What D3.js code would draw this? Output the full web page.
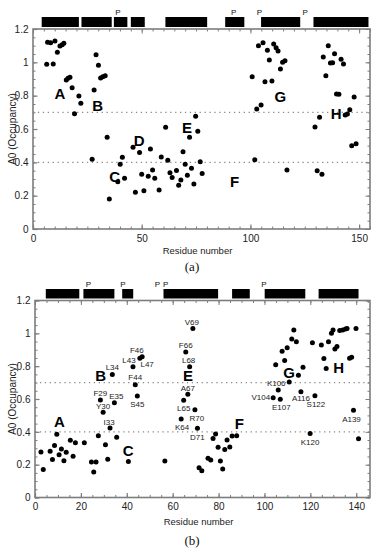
<!DOCTYPE html>
<html><head><meta charset="utf-8">
<script src="https://cdn.jsdelivr.net/npm/d3@7/dist/d3.min.js"></script>
<style>body{margin:0;background:#fff}svg{display:block}</style>
</head><body>
<svg id="c" width="376" height="550"></svg>
<script>
// ---------- DATA ----------
// Panel (a): [residue, A0 occupancy]
const pointsA = [
[6.3,0.988],[6.7,1.12],[8.1,1.118],[9.3,0.99],[10.1,1.128],[11.2,1.06],[12.4,1.098],[13.4,1.106],[14.2,1.114],
[15.3,0.894],[16.1,0.904],[17.0,0.91],[18.0,0.848],[19.1,0.692],[21.1,0.798],[22.0,0.754],
[28.1,0.834],[29.0,1.046],[30.1,0.982],[31.1,0.906],[32.1,0.914],[33.2,0.92],
[27.2,0.418],[34.1,0.55],[35.1,0.18],[39.0,0.283],[40.1,0.389],[41.1,0.431],[42.1,0.304],[46.0,0.49],[47.1,0.22],
[49.0,0.459],[50.0,0.328],[51.0,0.23],[53.0,0.317],[54.0,0.48],[55.0,0.354],[56.0,0.304],[58.0,0.234],[59.0,0.432],
[61.0,0.61],[62.0,0.412],[63.0,0.337],[64.0,0.309],[66.0,0.351],[67.0,0.262],[68.0,0.294],[69.0,0.464],[70.0,0.389],
[71.0,0.322],[72.0,0.55],[72.9,0.365],[74.0,0.27],[74.8,0.676],[75.8,0.587],[76.9,0.403],[77.8,0.333],
[102.0,0.416],[116.8,0.354],[130.7,0.35],[132.9,0.328],
[100.8,0.914],[102.9,0.72],[103.7,1.1],[104.9,0.744],[105.8,1.118],[106.7,0.884],[107.8,1.072],[108.7,1.014],
[109.9,0.888],[110.7,1.11],[111.8,1.088],[112.7,1.068],[113.8,0.96],[114.8,1.0],[115.9,1.01],
[129.7,0.612],[131.8,0.67],[133.5,1.032],[134.7,0.92],[135.8,1.1],[136.8,0.996],[137.8,0.998],[138.7,1.052],
[139.6,0.81],[140.7,0.808],[141.7,1.018],[142.8,0.99],[143.6,0.684],[144.6,0.69],[145.7,0.716],[147.7,0.792],
[146.6,0.5],[148.6,0.512]
];
// Panel (b): [residue, A0 occupancy, label]
const pointsB = [
[2.6,0.277],[3.6,0.17],[6.6,0.281],[7.6,0.232],[8.5,0.316],[9.5,0.385],[10.5,0.261],[11.5,0.295],[12.6,0.224],
[13.6,0.275],[15.4,0.348],[16.6,0.251],[17.6,0.334],[21.5,0.334],[24.6,0.216],[25.6,0.155],[26.6,0.216],[27.6,0.376],
[28.5,0.594,"F29"],[29.7,0.519,"Y30"],[30.7,0.322],[31.7,0.233],[32.7,0.423,"I33"],[33.7,0.75,"L34"],
[34.6,0.577,"E35"],[35.6,0.367],[40.7,0.22],[42.7,0.797,"L43"],[43.7,0.687,"F44"],[44.6,0.618,"S45"],
[45.7,0.848,"F46"],[46.7,0.858,"L47"],[56.6,0.222],
[63.7,0.478,"K64"],[64.8,0.592,"L65"],[65.7,0.886,"F66"],[66.6,0.629,"A67"],[67.4,0.797,"L68"],[68.8,1.029,"V69"],
[69.7,0.534,"R70"],[70.8,0.422,"D71"],[71.5,0.181],[72.7,0.163],[75.4,0.239],[76.6,0.228],[77.6,0.36],[78.7,0.387],
[79.8,0.306],[80.8,0.222],[81.8,0.174],[82.7,0.293],[83.7,0.35],[84.9,0.308],[85.9,0.375],[87.9,0.376],
[103.8,0.607,"V104"],[104.9,0.808],[106.0,0.655,"K106"],[106.9,0.598,"E107"],[107.7,0.891],[108.8,0.835],
[109.9,0.912],[110.8,0.703],[111.9,0.965],[112.8,1.02],[113.9,0.948],[114.8,0.744],[115.9,0.644,"A116"],
[116.8,0.793],[119.9,0.39,"K120"],[120.9,0.943],[122.0,0.62,"S122"],[124.8,0.929],[125.9,0.846],[126.9,0.786],
[127.9,0.948],[129.2,1.0],[129.9,1.02],[130.7,0.905],[131.6,0.92],[132.8,1.018],[134.1,1.02],[135.3,1.026],
[136.0,1.03],[137.1,0.848],[138.0,0.854],[138.8,0.532,"A139"],[139.9,1.03],[141.0,0.358]
];
// Secondary-structure segments [start, end] and proline marks
const segmentsA = [[4,21.1],[22.3,36.2],[37.2,43.4],[45,51.4],[60.9,80.1],[88.4,97.2],[104.9,122.9],[129,154.3]];
const prolinesA = [39.1,92.3,104.1,125.2];
const segmentsB = [[4.7,19.3],[21.1,34.6],[38,42.8],[56,79.8],[85.9,93.6],[100.1,117.8],[123.6,141]];
const prolinesB = [23.3,38.3,53.3,56.9,99.8];
// Region letters [letter, residue, occupancy]
const regionsA = [["A",12.4,0.816],["B",29.7,0.744],["C",37.6,0.314],["D",48.8,0.53],["E",70.8,0.61],["F",92.7,0.284],["G",113.8,0.794],["H",139.4,0.694]];
const regionsB = [["A",10.65,0.462],["B",28.65,0.746],["C",40.65,0.289],["E",66.7,0.742],["F",89.1,0.452],["G",110.7,0.762],["H",132.3,0.79]];
const thresholds = [0.7, 0.4];
const yTicks = [0,0.2,0.4,0.6,0.8,1,1.2];
const xTicksA = [0,50,100,150];
const xTicksB = [0,20,40,60,80,100,120,140];

// ---------- LABEL PLACEMENT (panel b residue labels: dx, dy, anchor) ----------
const labelPos = {
  F29:[0,-6,"middle"], Y30:[0,-6,"middle"], I33:[-1,-6,"middle"], L34:[0,-7,"middle"], E35:[2,-6,"middle"],
  L43:[-4,-6,"middle"], F44:[0,-7,"middle"], S45:[0,8,"middle"], F46:[-3,-8,"middle"], L47:[5,8,"middle"],
  K64:[1,8,"middle"], L65:[0,8.5,"middle"], F66:[0,-7,"middle"], A67:[0,-5.5,"middle"], L68:[-1,-6,"middle"],
  V69:[-1,-6,"middle"], R70:[2,8.5,"middle"], D71:[0,9,"middle"],
  V104:[-3,0,"end"], K106:[-2,-6,"middle"], E107:[1,8,"middle"], A116:[0,7,"middle"], K120:[0,9,"middle"],
  S122:[1,9,"middle"], A139:[-2,9,"middle"]
};

const svg = d3.select("#c");
svg.append("rect").attr("width",376).attr("height",550).attr("fill","#fff");
const frameColor = "#7d7d7d";
const sans = "Liberation Sans, Arial, sans-serif";

function panel(o){
  const x = d3.scaleLinear().domain(o.xDomain).range([o.left,o.right]);
  const y = d3.scaleLinear().domain([0,1.2]).range([o.bottom,o.top]);
  const g = svg.append("g");
  // threshold dotted lines
  g.selectAll(".thr").data(thresholds).join("line")
    .attr("x1",o.left).attr("x2",o.right).attr("y1",d=>y(d)).attr("y2",d=>y(d))
    .attr("stroke","#8a8a8a").attr("stroke-width",1.3).attr("stroke-dasharray","1.3,3.6");
  // minor ticks
  const xMinor = d3.range(o.xDomain[0], o.xDomain[1]+0.001, 5);
  const yMinor = d3.range(0, 1.2001, 0.05);
  const mk = (axis, ticks, size) => axis.tickValues(ticks).tickSize(size).tickFormat("");
  const styleAxis = sel => { sel.select(".domain").remove(); sel.selectAll("line").attr("stroke",frameColor).attr("stroke-width",1); };
  g.append("g").attr("transform",`translate(0,${o.bottom})`).call(mk(d3.axisBottom(x),xMinor,-2.5)).call(styleAxis);
  g.append("g").attr("transform",`translate(0,${o.top})`).call(mk(d3.axisTop(x),xMinor,-2.5)).call(styleAxis);
  g.append("g").attr("transform",`translate(${o.left},0)`).call(mk(d3.axisLeft(y),yMinor,-2.5)).call(styleAxis);
  g.append("g").attr("transform",`translate(${o.right},0)`).call(mk(d3.axisRight(y),yMinor,-2.5)).call(styleAxis);
  // major ticks with labels
  const bx = g.append("g").attr("transform",`translate(0,${o.bottom})`)
    .call(d3.axisBottom(x).tickValues(o.xTicks).tickSize(-4.5).tickPadding(5.5).tickFormat(d3.format("d")));
  bx.select(".domain").remove();
  bx.selectAll("line").attr("stroke",frameColor).attr("stroke-width",1.2);
  bx.selectAll("text").attr("font-family",sans).attr("font-size",10).attr("fill","#222").attr("dy","0.71em");
  g.append("g").attr("transform",`translate(0,${o.top})`).call(mk(d3.axisTop(x),o.xTicks,-4.5)).call(styleAxis);
  const ly = g.append("g").attr("transform",`translate(${o.left},0)`)
    .call(d3.axisLeft(y).tickValues(yTicks).tickSize(-4.5).tickPadding(4.5).tickFormat(d=>String(+d.toFixed(1))));
  ly.select(".domain").remove();
  ly.selectAll("line").attr("stroke",frameColor).attr("stroke-width",1.2);
  ly.selectAll("text").attr("font-family",sans).attr("font-size",10).attr("fill","#222");
  g.append("g").attr("transform",`translate(${o.right},0)`).call(mk(d3.axisRight(y),yTicks,-4.5)).call(styleAxis);
  // frame
  g.append("rect").attr("x",o.left).attr("y",o.top).attr("width",o.right-o.left).attr("height",o.bottom-o.top)
    .attr("fill","none").attr("stroke",frameColor).attr("stroke-width",1.6);
  // secondary structure bars
  g.selectAll(".seg").data(o.segments).join("rect")
    .attr("x",d=>x(d[0])).attr("width",d=>x(d[1])-x(d[0]))
    .attr("y",o.barTop).attr("height",o.barH).attr("fill","#000");
  g.selectAll(".pro").data(o.prolines).join("text")
    .attr("x",d=>x(d)).attr("y",o.barTop-2.5).attr("text-anchor","middle")
    .attr("font-family",sans).attr("font-size",8).attr("fill","#111").text("P");
  // points
  g.selectAll(".pt").data(o.points).join("circle")
    .attr("cx",d=>x(d[0])).attr("cy",d=>y(d[1])).attr("r",2.5).attr("fill","#000");
  // residue labels
  g.selectAll(".rl").data(o.points.filter(d=>d[2])).join("text")
    .attr("x",d=>x(d[0])+labelPos[d[2]][0]).attr("y",d=>y(d[1])+labelPos[d[2]][1])
    .attr("text-anchor",d=>labelPos[d[2]][2]).attr("dominant-baseline","central")
    .attr("font-family",sans).attr("font-size",8).attr("fill","#222").text(d=>d[2]);
  // region letters
  g.selectAll(".rg").data(o.regions).join("text")
    .attr("x",d=>x(d[1])).attr("y",d=>y(d[2])).attr("text-anchor","middle").attr("dominant-baseline","central")
    .attr("font-family",sans).attr("font-weight","bold").attr("font-size",15).attr("fill","#000").text(d=>d[0]);
  // axis titles
  g.append("text").attr("x",(o.left+o.right)/2-4).attr("y",o.xTitleY).attr("text-anchor","middle")
    .attr("dominant-baseline","central").attr("font-family",sans).attr("font-size",9.5).attr("fill","#222").text("Residue number");
  g.append("text").attr("transform",`translate(12,${(o.top+o.bottom)/2}) rotate(-90)`).attr("text-anchor","middle")
    .attr("dominant-baseline","central").attr("font-family",sans).attr("font-size",10).attr("fill","#222").text("A0 (Occupancy)");
  g.append("text").attr("x",192).attr("y",o.capY).attr("text-anchor","middle").attr("dominant-baseline","central")
    .attr("font-family","Liberation Serif, Times New Roman, serif").attr("font-size",13).attr("fill","#111").text(o.caption);
}

panel({xDomain:[0,155], left:33, right:370, top:29, bottom:229, xTicks:xTicksA, points:pointsA,
  segments:segmentsA, prolines:prolinesA, regions:regionsA, barTop:17, barH:10, xTitleY:250, capY:266.5, caption:"(a)"});
panel({xDomain:[0,146], left:35, right:370, top:300.5, bottom:497.5, xTicks:xTicksB, points:pointsB,
  segments:segmentsB, prolines:prolinesB, regions:regionsB, barTop:289, barH:9.5, xTitleY:521, capY:540, caption:"(b)"});
</script>
</body></html>
